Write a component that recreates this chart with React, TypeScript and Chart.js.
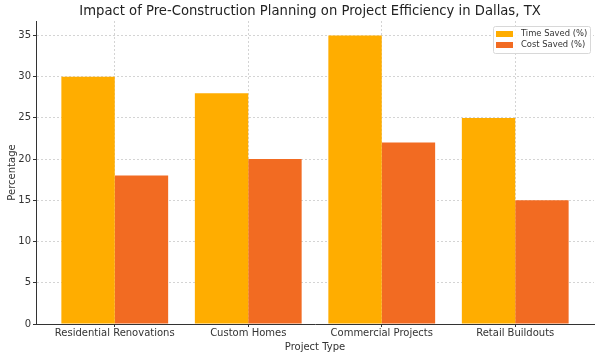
import React, { useEffect, useRef } from "react";
import { Chart, registerables } from "chart.js";

Chart.register(...registerables);

const categories = ["Residential Renovations", "Custom Homes", "Commercial Projects", "Retail Buildouts"];
const timeSaved = [30, 28, 35, 25];
const costSaved = [18, 20, 22, 15];
const seriesLabels = ["Time Saved (%)", "Cost Saved (%)"];
const yTicks = [0, 5, 10, 15, 20, 25, 30, 35];

const FONT = "'DejaVu Sans', sans-serif";

const titlePlugin = {
  id: "customTitle",
  afterDraw(chart: any) {
    const ctx = chart.ctx;
    ctx.save();
    ctx.font = `13.2px ${FONT}`;
    ctx.fillStyle = "#222";
    ctx.textAlign = "center";
    ctx.textBaseline = "middle";
    ctx.fillText("Impact of Pre-Construction Planning on Project Efficiency in Dallas, TX", 310, 12);
    ctx.restore();
  },
};

const legendPlugin = {
  id: "customLegend",
  afterDraw(chart: any) {
    const ctx = chart.ctx;
    const area = chart.chartArea;
    const ds = chart.data.datasets;
    ctx.save();
    ctx.font = `8.4px ${FONT}`;
    const w = 97;
    const h = 27;
    const x = area.right - w - 4;
    const y = area.top + 5;
    ctx.fillStyle = "rgba(255,255,255,0.85)";
    ctx.strokeStyle = "#d8d8d8";
    ctx.lineWidth = 1;
    ctx.beginPath();
    (ctx as any).roundRect(x + 0.5, y + 0.5, w, h, 2);
    ctx.fill();
    ctx.stroke();
    ds.forEach((d: any, i: number) => {
      const ry = y + 8 + i * 11;
      ctx.fillStyle = d.backgroundColor;
      ctx.fillRect(x + 3, ry - 3, 17, 6);
      ctx.fillStyle = "#333";
      ctx.textBaseline = "middle";
      ctx.textAlign = "left";
      ctx.fillText(d.label, x + 28, ry);
    });
    ctx.restore();
  },
};

export default function App() {
  const ref = useRef<HTMLCanvasElement>(null);
  useEffect(() => {
    document.body.style.margin = "0";
    const chart = new Chart(ref.current!, {
      type: "bar",
      data: {
        datasets: [
          {
            label: seriesLabels[0],
            data: timeSaved.map((v, i) => ({ x: i, y: v })),
            backgroundColor: "#FFAD00",
            categoryPercentage: 0.8,
            barPercentage: 1.0,
          },
          {
            label: seriesLabels[1],
            data: costSaved.map((v, i) => ({ x: i, y: v })),
            backgroundColor: "#F26B22",
            categoryPercentage: 0.8,
            barPercentage: 1.0,
          },
        ],
      },
      options: {
        animation: false,
        responsive: false,
        layout: { padding: { top: 21, right: 6, left: 0, bottom: 0 } },
        plugins: { legend: { display: false }, title: { display: false }, tooltip: { enabled: false } },
        scales: {
          x: {
            type: "linear",
            min: -0.59,
            max: 3.59,
            offset: false,
            afterBuildTicks: (s: any) => {
              s.ticks = categories.map((_, i) => ({ value: i }));
            },
            afterFit: (s: any) => {
              s.height = 33;
            },
            ticks: {
              callback: (v: any) => categories[v] ?? "",
              font: { family: FONT, size: 10 },
              color: "#333",
              padding: 0,
              maxRotation: 0,
              autoSkip: false,
            },
            grid: {
              offset: false,
              color: "#d4d4d4",
              tickColor: "#333",
              tickLength: 3,
              tickBorderDash: [],
            } as any,
            border: { display: true, color: "#333", width: 1, dash: [2, 2] } as any,
            title: {
              display: true,
              text: "Project Type",
              font: { family: FONT, size: 10 },
              color: "#333",
              padding: { top: 0, bottom: 4 },
            },
          },
          y: {
            min: 0,
            max: 36.75,
            afterBuildTicks: (s: any) => {
              s.ticks = yTicks.map((v) => ({ value: v }));
            },
            afterFit: (s: any) => {
              s.width = 36;
            },
            ticks: {
              font: { family: FONT, size: 10 },
              color: "#333",
              padding: 2,
            },
            grid: {
              color: "#d4d4d4",
              tickColor: "#333",
              tickLength: 3,
              tickBorderDash: [],
            } as any,
            border: { display: true, color: "#333", width: 1, dash: [2, 2] } as any,
            title: {
              display: true,
              text: "Percentage",
              font: { family: FONT, size: 10 },
              color: "#333",
              padding: { top: 6, bottom: 0 },
            },
          },
        },
      } as any,
      plugins: [titlePlugin, legendPlugin],
    });
    return () => chart.destroy();
  }, []);
  return (
    <div style={{ position: "absolute", left: 0, top: 0, width: 600, height: 357 }}>
      <canvas ref={ref} width={600} height={357} style={{ width: 600, height: 357 }} />
    </div>
  );
}
